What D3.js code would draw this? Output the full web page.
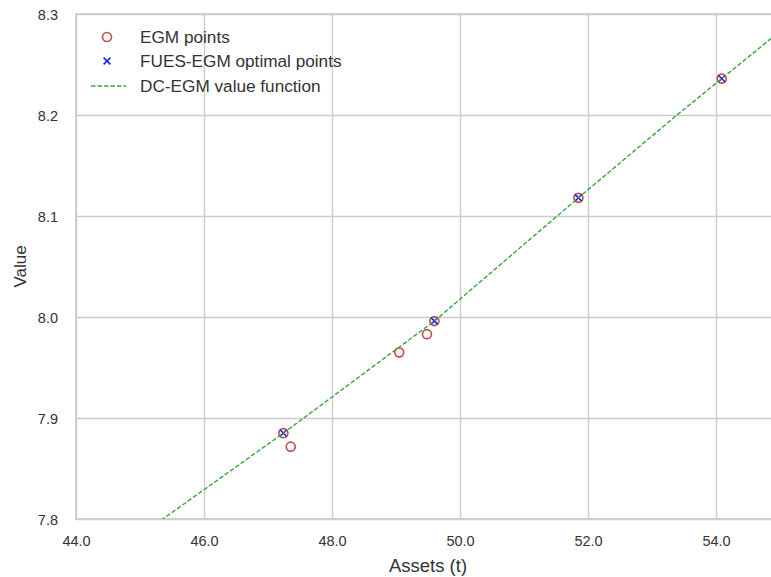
<!DOCTYPE html>
<html>
<head>
<meta charset="utf-8">
<script src="https://cdn.jsdelivr.net/npm/d3@7"></script>
<style>
  body { margin:0; background:#fff; }
  svg { display:block; font-family: "Liberation Sans", Arial, sans-serif; }
</style>
</head>
<body>
<svg id="chart" width="771" height="577"></svg>
<script>
// EGM points (red open circles)
const egmAssets = [47.24, 47.355, 49.05, 49.484, 49.60, 51.85, 54.09]
const egmValues = [7.885, 7.8716, 7.965, 7.983, 7.996, 8.118, 8.236]
// FUES-EGM optimal points (blue x)
const optAssets = [47.24, 49.60, 51.85, 54.09]
const optValues = [7.885, 7.996, 8.118, 8.236]
// DC-EGM value function (dashed green)
const vfAssets = [45.0, 46.0, 47.24, 49.6, 51.85, 53.39, 54.09, 55.0]
const vfValues = [7.784, 7.829, 7.885, 7.996, 8.118, 8.200, 8.236, 8.283]

const xTicks = [44, 46, 48, 50, 52, 54]
const yTicks = [7.8, 7.9, 8.0, 8.1, 8.2, 8.3]

const legendItems = ['EGM points', 'FUES-EGM optimal points', 'DC-EGM value function']

const margin = {top:14, left:76, right:780, bottom:519}
const red = '#c44e52', blue = '#1f1fff', green = '#3aa53a', grid = '#cccccc', text = '#333333'

const svg = d3.select('#chart')

const x = d3.scaleLinear().domain([44, 55]).range([margin.left, margin.right])
const y = d3.scaleLinear().domain([7.8, 8.3]).range([margin.bottom, margin.top])

svg.append('defs').append('clipPath').attr('id', 'plotclip')
    .append('rect')
    .attr('x', margin.left).attr('y', margin.top)
    .attr('width', margin.right - margin.left).attr('height', margin.bottom - margin.top)

// grid
const xAxis = d3.axisBottom(x).tickValues(xTicks).tickFormat(d3.format('.1f'))
    .tickSize(-(margin.bottom - margin.top)).tickPadding(17)
const yAxis = d3.axisLeft(y).tickValues(yTicks).tickFormat(d3.format('.1f'))
    .tickSize(-(margin.right - margin.left)).tickPadding(18)

const gx = svg.append('g').attr('transform', `translate(0,${margin.bottom})`).call(xAxis)
const gy = svg.append('g').attr('transform', `translate(${margin.left},0)`).call(yAxis)
;[gx, gy].forEach(g => {
    g.select('.domain').remove()
    g.selectAll('.tick line').attr('stroke', grid).attr('stroke-width', 1.4)
    g.selectAll('.tick text').attr('fill', text).style('font-size', '14.5px')
})
gy.selectAll('.tick text').attr('dy', '0.36em')

// spines
svg.append('rect')
    .attr('x', margin.left).attr('y', margin.top)
    .attr('width', margin.right - margin.left).attr('height', margin.bottom - margin.top)
    .attr('fill', 'none').attr('stroke', grid).attr('stroke-width', 1.7)

const plot = svg.append('g').attr('clip-path', 'url(#plotclip)')

// EGM scatter
plot.selectAll('.egm').data(egmAssets).enter().append('circle')
    .attr('class', 'egm')
    .attr('cx', d => x(d))
    .attr('cy', (d, i) => y(egmValues[i]))
    .attr('r', 4.5)
    .attr('fill', 'none').attr('stroke', red).attr('stroke-width', 1.7)

// optimal points as x marks
const cross = (g, cx, cy, s) => {
    g.append('path')
        .attr('d', `M${cx - s},${cy - s}L${cx + s},${cy + s}M${cx - s},${cy + s}L${cx + s},${cy - s}`)
        .attr('stroke', blue).attr('stroke-width', 1.6).attr('fill', 'none')
}
optAssets.forEach((d, i) => cross(plot, x(d), y(optValues[i]), 3.4))

// value function
const line = d3.line().x(d => x(d[0])).y(d => y(d[1]))
plot.append('path')
    .datum(vfAssets.map((d, i) => [d, vfValues[i]]))
    .attr('d', line)
    .attr('fill', 'none').attr('stroke', green)
    .attr('stroke-width', 1.4).attr('stroke-dasharray', '4.5,2')

// legend
const lg = svg.append('g')
const rows = [37, 61, 86]
lg.append('circle').attr('cx', 107).attr('cy', rows[0]).attr('r', 4.5)
    .attr('fill', 'none').attr('stroke', red).attr('stroke-width', 1.7)
cross(lg, 107, rows[1], 3.4)
lg.append('line').attr('x1', 91).attr('x2', 126).attr('y1', rows[2]).attr('y2', rows[2])
    .attr('stroke', green).attr('stroke-width', 1.4).attr('stroke-dasharray', '4.5,2')
lg.selectAll('text').data(legendItems).enter().append('text')
    .attr('x', 140).attr('y', (d, i) => rows[i]).attr('dy', '0.36em')
    .attr('fill', text).style('font-size', '17.2px')
    .text(d => d)

// axis labels
svg.append('text').attr('x', (margin.left + margin.right) / 2).attr('y', 572)
    .attr('text-anchor', 'middle').attr('fill', text).style('font-size', '18.5px')
    .text('Assets (t)')
svg.append('text')
    .attr('transform', `translate(26,${(margin.top + margin.bottom) / 2}) rotate(-90)`)
    .attr('text-anchor', 'middle').attr('fill', text).style('font-size', '17px')
    .text('Value')
</script>
</body>
</html>
